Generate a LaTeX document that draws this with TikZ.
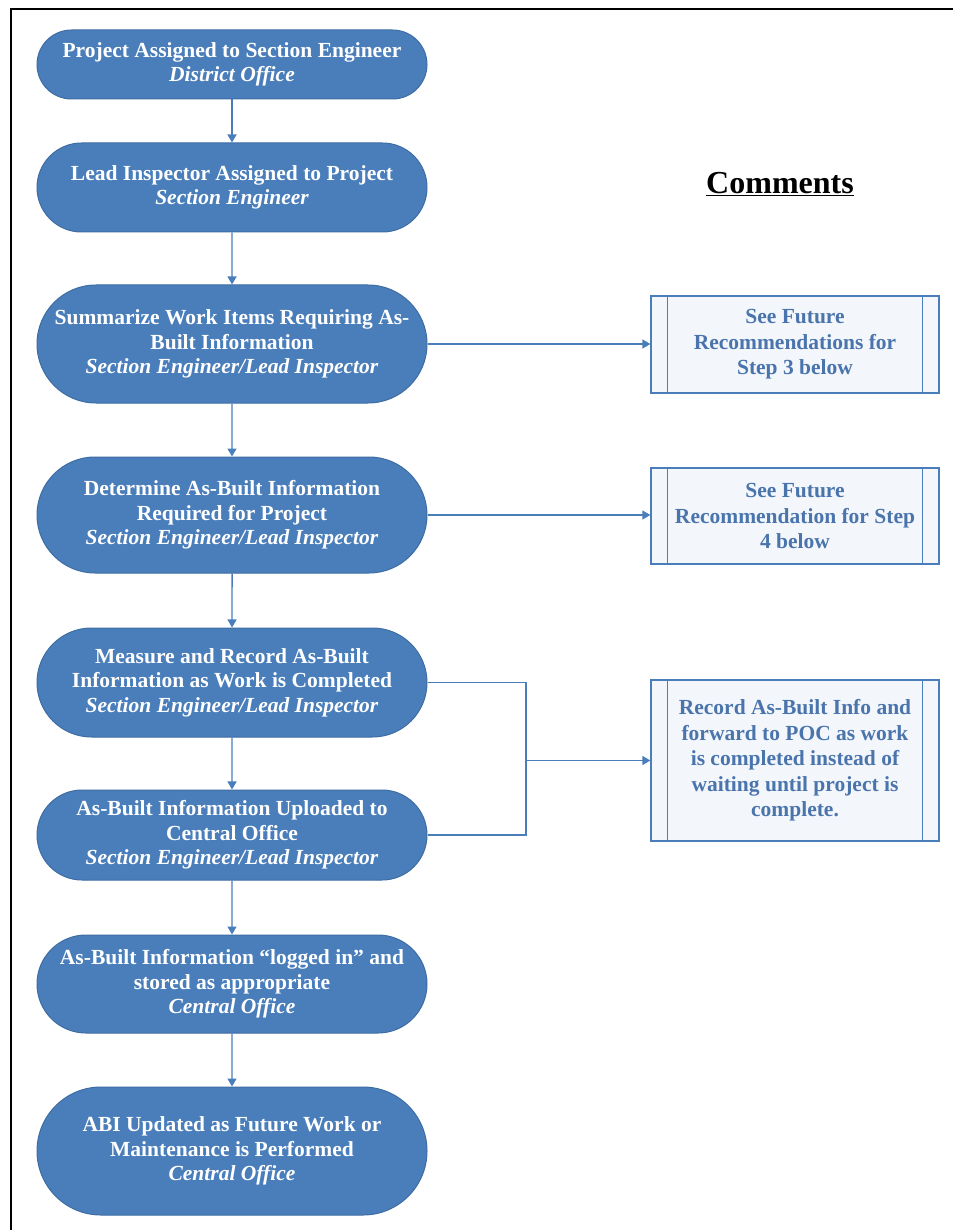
\documentclass[tikz,border=0pt]{standalone}
\usepackage{fontspec}
\setmainfont{Liberation Serif}
\usetikzlibrary{shapes.misc,arrows.meta}
\definecolor{nodeblue}{HTML}{4A7EBB}
\definecolor{nodeedge}{HTML}{3D6CA3}
\definecolor{linkblue}{HTML}{4A7EBB}
\definecolor{cmtfill}{HTML}{F3F6FB}
\definecolor{cmttext}{HTML}{4A74AC}
\tikzset{
  stepnode/.style={rounded rectangle, rounded rectangle arc length=180,
    draw=nodeedge, line width=1pt, fill=nodeblue, text=white,
    minimum width=390pt, inner sep=0pt, align=center,
    font=\fontsize{21.5}{24.5}\selectfont\bfseries},
  cmtbox/.style={rectangle, draw=linkblue, line width=1.3pt, fill=cmtfill,
    text=cmttext, minimum width=288pt, inner sep=0pt, align=center,
    font=\fontsize{21.5}{25.5}\selectfont\bfseries},
  link/.style={draw=linkblue, line width=1.4pt},
  arr/.style={link, -{Triangle[width=9pt,length=8pt]}},
}
\begin{document}
\begin{tikzpicture}[x=1pt,y=-1pt]
\useasboundingbox (0,0) rectangle (952,1230);
% frame
\draw[line width=2.4pt, line cap=rect] (11,1235) -- (11,9) -- (960,9);

\node[stepnode, minimum height=69pt]  (n1) at (232,64.5) {Project Assigned to Section Engineer\\\itshape District Office};
\node[stepnode, minimum height=89pt]  (n2) at (232,187.5) {Lead Inspector Assigned to Project\\\itshape Section Engineer};
\node[stepnode, minimum height=118pt] (n3) at (232,344) {Summarize Work Items Requiring As-\\Built Information\\\itshape Section Engineer/Lead Inspector};
\node[stepnode, minimum height=116pt] (n4) at (232,515) {Determine As-Built Information\\Required for Project\\\itshape Section Engineer/Lead Inspector};
\node[stepnode, minimum height=109pt] (n5) at (232,682.5) {Measure and Record As-Built\\Information as Work is Completed\\\itshape Section Engineer/Lead Inspector};
\node[stepnode, minimum height=90pt]  (n6) at (232,835) {As-Built Information Uploaded to\\Central Office\\\itshape Section Engineer/Lead Inspector};
\node[stepnode, minimum height=98pt]  (n7) at (232,984) {As-Built Information “logged in” and\\stored as appropriate\\\itshape Central Office};
\node[stepnode, minimum height=128pt] (n8) at (232,1151) {ABI Updated as Future Work or\\Maintenance is Performed\\\itshape Central Office};

\node[font=\fontsize{32}{36}\selectfont\bfseries, inner sep=0pt] (cmt) at (780,184) {\underline{Comments}};

\node[cmtbox, minimum height=97pt]  (cA) at (795,344.5) {See Future\\Recommendations for\\Step 3 below};
\node[cmtbox, minimum height=96pt]  (cB) at (795,516) {See Future\\Recommendation for Step\\4 below};
\node[cmtbox, minimum height=161pt] (cC) at (795,760.5) {Record As-Built Info and\\forward to POC as work\\is completed instead of\\waiting until project is\\complete.};
\foreach \c in {cA,cB,cC}{
  \draw[link, line width=1.2pt] ([xshift=17pt]\c.north west) -- ([xshift=17pt]\c.south west);
  \draw[link, line width=1.2pt] ([xshift=-17pt]\c.north east) -- ([xshift=-17pt]\c.south east);
}

\draw[arr] (n1) -- (n2);
\draw[arr] (n2) -- (n3);
\draw[arr] (n3) -- (n4);
\draw[arr] (n4) -- (n5);
\draw[arr] (n5) -- (n6);
\draw[arr] (n6) -- (n7);
\draw[arr] (n7) -- (n8);

\draw[arr] (n3.east) -- (n3.east -| cA.west);
\draw[arr] (n4.east) -- (n4.east -| cB.west);
\coordinate (bx) at (526,760.5);
\draw[link] (n5.east) -| (bx) |- (n6.east);
\draw[arr] (bx) -- (bx -| cC.west);
\end{tikzpicture}
\end{document}
